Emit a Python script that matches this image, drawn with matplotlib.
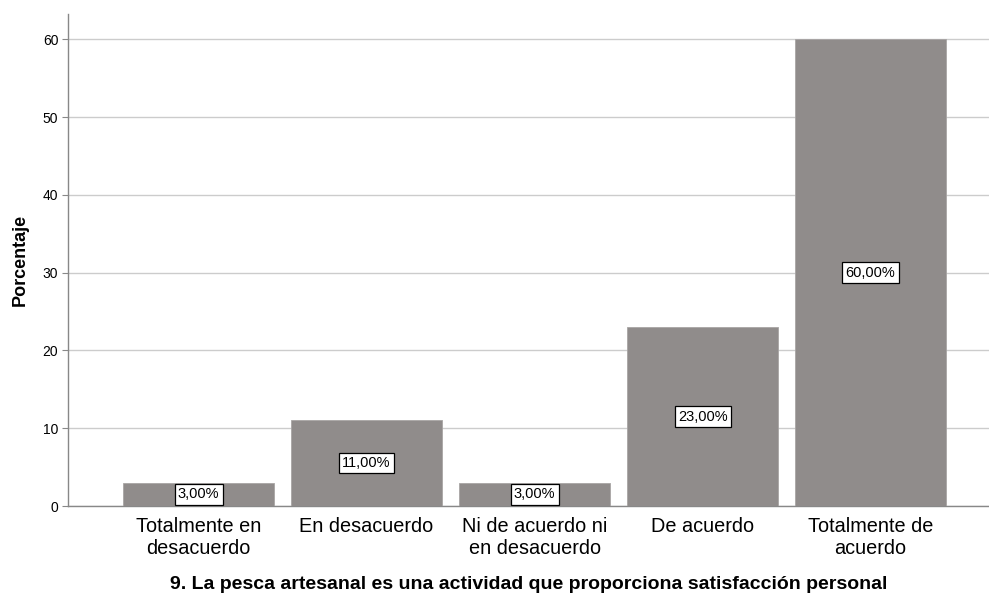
import matplotlib
matplotlib.use("Agg")
import matplotlib.pyplot as plt

plt.rcParams["font.family"] = ["Liberation Sans", "DejaVu Sans"]

categories = ["Totalmente en\ndesacuerdo", "En desacuerdo", "Ni de acuerdo ni\nen desacuerdo",
              "De acuerdo", "Totalmente de\nacuerdo"]
percentages = [3.0, 11.0, 3.0, 23.0, 60.0]
yticks = [0, 10, 20, 30, 40, 50, 60]

fig = plt.figure(figsize=(9.89, 5.93), dpi=100)
ax = fig.add_axes([0.0688, 0.1467, 0.9312, 0.829])

x = list(range(len(categories)))
ax.bar(x, percentages, width=0.9, color="#908c8b", edgecolor="#a8a5a4", linewidth=0.6, zorder=3)
for xi, v in zip(x, percentages):
    ax.text(xi, v / 2, f"{v:.2f}%".replace(".", ","), ha="center", va="center", fontsize=10.5,
            zorder=4, bbox=dict(boxstyle="square,pad=0.22", fc="white", ec="black", lw=0.9))

ax.set_xlim(-0.777, 4.705)
ax.set_ylim(0, 63.2)
ax.set_yticks(yticks)
ax.set_xticks(x)
ax.set_xticklabels(categories, fontsize=14.3, linespacing=1.2)
ax.tick_params(axis="y", labelsize=10, length=4, color="#888888", pad=3)
ax.tick_params(axis="x", length=0, pad=8)
ax.yaxis.grid(True, color="#cccccc", linewidth=1.0, zorder=0)
ax.set_axisbelow(True)
for s in ["top", "right"]:
    ax.spines[s].set_visible(False)
for s in ["left", "bottom"]:
    ax.spines[s].set_color("#888888")
    ax.spines[s].set_linewidth(1.0)

ax.set_ylabel("Porcentaje", fontsize=13, fontweight="bold", labelpad=10)
ax.set_xlabel("9. La pesca artesanal es una actividad que proporciona satisfacción personal",
              fontsize=14, fontweight="bold", labelpad=13)

fig.savefig("out.png", dpi=100)
